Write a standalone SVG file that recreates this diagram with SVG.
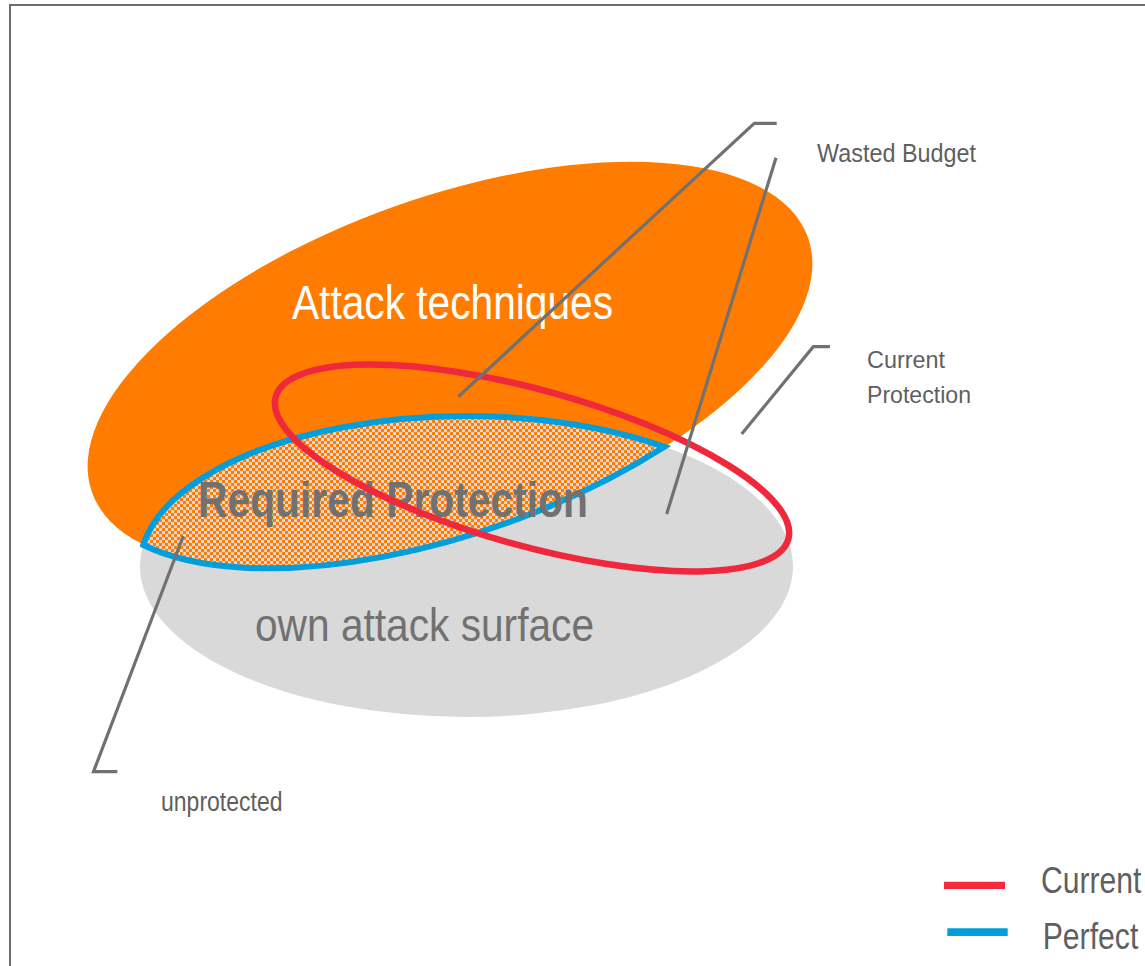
<svg xmlns="http://www.w3.org/2000/svg" width="1145" height="966" viewBox="0 0 1145 966">
  <defs>
    <style>
      .lbl { font-family: "Liberation Sans", Arial, sans-serif; fill: #5f5f5f; }
      .big { font-family: "Liberation Sans", Arial, sans-serif; }
      .conn { fill: none; stroke: #717171; stroke-width: 3.2; stroke-linejoin: miter; }
    </style>
    <!-- checkerboard fill for the overlap of techniques and surface -->
    <pattern id="check" width="6" height="6" patternUnits="userSpaceOnUse">
      <rect width="6" height="6" fill="#d9d9d9"/>
      <rect width="3" height="3" fill="#ff7c00"/>
      <rect x="3" y="3" width="3" height="3" fill="#ff7c00"/>
    </pattern>
  </defs>

  <rect width="1145" height="966" fill="#ffffff"/>
  <!-- frame -->
  <path d="M 10 966 L 10 5 L 1145 5" fill="none" stroke="#6e6e6e" stroke-width="2"/>

  <g id="attack-surface">
    <ellipse cx="466.5" cy="566.5" rx="326.5" ry="150.5" fill="#d9d9d9"/>
  </g>

  <g id="attack-techniques">
    <ellipse cx="450" cy="365" rx="380" ry="168" fill="#ff7c00" transform="rotate(-19.6 450 365)"/>
    <text class="big" x="292" y="319" font-size="48" fill="#ffffff" textLength="321" lengthAdjust="spacingAndGlyphs">Attack techniques</text>
  </g>

  <g id="required-protection">
    <path d="M 143.3 545 A 380 168 -19.6 0 0 664.4 446.8 A 326.5 150.5 0 0 0 143.3 545 Z" fill="url(#check)" stroke="#009fdb" stroke-width="6" stroke-linejoin="miter"/>
    <text class="big" x="198" y="517" font-size="50" font-weight="bold" fill="#717171" textLength="390" lengthAdjust="spacingAndGlyphs">Required Protection</text>
  </g>

  <g id="surface-label">
    <text class="big" x="255" y="641" font-size="46" fill="#717171" textLength="339" lengthAdjust="spacingAndGlyphs">own attack surface</text>
  </g>

  <g id="current-protection">
    <ellipse cx="532" cy="468" rx="266" ry="78" fill="none" stroke="#f0283c" stroke-width="6.5" transform="rotate(15.5 532 468)"/>
  </g>

  <g id="connectors">
    <polyline class="conn" points="776.7,123.3 754.3,123.3 458.3,396.7"/>
    <line class="conn" x1="776" y1="157.7" x2="666.7" y2="514"/>
    <polyline class="conn" points="830,346.7 813.3,346.7 741.7,434"/>
    <polyline class="conn" points="183.3,536 93.5,771.7 117.3,771.7"/>
  </g>

  <g id="label-wasted">
    <text class="lbl" x="817" y="162" font-size="25.5" textLength="159" lengthAdjust="spacingAndGlyphs">Wasted Budget</text>
  </g>
  <g id="label-current">
    <text class="lbl" x="867" y="368" font-size="24.5" textLength="78" lengthAdjust="spacingAndGlyphs">Current</text>
    <text class="lbl" x="867" y="402.7" font-size="24.5" textLength="104" lengthAdjust="spacingAndGlyphs">Protection</text>
  </g>
  <g id="label-unprotected">
    <text class="lbl" x="161" y="810.5" font-size="27" textLength="121.5" lengthAdjust="spacingAndGlyphs">unprotected</text>
  </g>

  <g id="legend">
    <line x1="944" y1="885.3" x2="1005" y2="885.3" stroke="#f52a3c" stroke-width="7.3"/>
    <text class="lbl" x="1041" y="893.3" font-size="37" fill="#6e6e6e" textLength="100.5" lengthAdjust="spacingAndGlyphs">Current</text>
    <line x1="947.3" y1="932.2" x2="1007.7" y2="932.2" stroke="#009fdb" stroke-width="7.7"/>
    <text class="lbl" x="1042.7" y="949" font-size="37" fill="#6e6e6e" textLength="95.6" lengthAdjust="spacingAndGlyphs">Perfect</text>
  </g>
</svg>
